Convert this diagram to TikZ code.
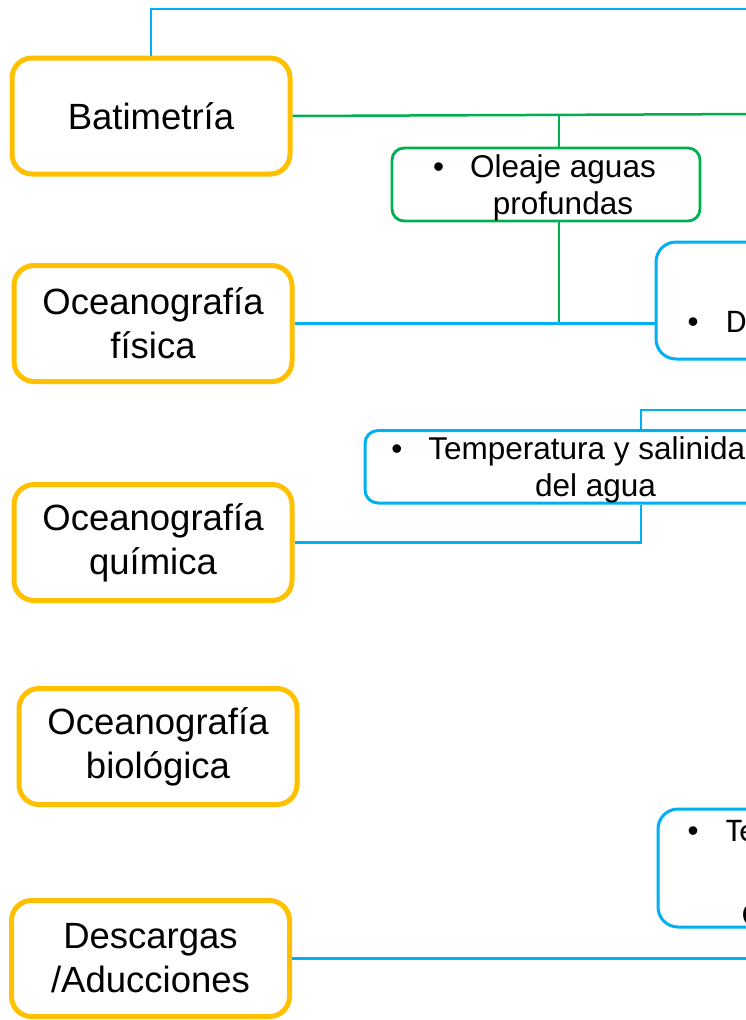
\documentclass[tikz,border=0pt]{standalone}
\usepackage{fontspec}
\setmainfont{Liberation Sans}
\newfontfamily\calibfont{Carlito}
\definecolor{boxyellow}{HTML}{FFC000}
\definecolor{linkblue}{HTML}{00B0F0}
\definecolor{linkgreen}{HTML}{00B050}
% small round bullet hanging to the left of a side-box line
\newcommand{\sidebullet}{\llap{\rmfamily\fontsize{31.5}{37}\selectfont •\hspace{27.5pt}}}
\begin{document}
\begin{tikzpicture}[x=1pt,y=-1pt,
  topic/.style={draw=boxyellow, line width=5pt, rounded corners=20pt,
    inner sep=0pt, minimum width=278pt, minimum height=116pt,
    align=center, font=\fontsize{36.5}{44}\selectfont},
  bluebox/.style={draw=linkblue, line width=3pt, inner sep=0pt},
  greenbox/.style={draw=linkgreen, line width=2.8pt, inner sep=0pt, rounded corners=12pt},
  subtext/.style={inner sep=0pt, align=center, font=\fontsize{31.5}{37}\selectfont},
  sidetext/.style={inner sep=0pt, font=\calibfont\fontsize{33}{40}\selectfont},
  bluelink/.style={draw=linkblue, line width=2.5pt},
  greenlink/.style={draw=linkgreen, line width=2.5pt}]
\useasboundingbox (0,0) rectangle (746,1020);
\clip (0,0) rectangle (746,1020);

% main topics on the left
\node[topic] (bat) at (151,116) {Batimetría};
\node[topic] (fis) at (153,323.5) {Oceanografía\\física};
\node[topic] (qui) at (153,542.5) {Oceanografía\\química};
\node[topic] (bio) at (158,746.5) {Oceanografía\\biológica};
\node[topic] (des) at (150.5,958.5) {Descargas\\/Aducciones};

% detail boxes
\node[greenbox, minimum width=308pt, minimum height=73pt] (ol) at (546,184.5) {};
\node[subtext] (oltxt) at (563,188) {\llap{•\hspace{26pt}}Oleaje aguas\\profundas};

\node[bluebox, rounded corners=20pt, minimum width=244pt, minimum height=117pt] (dbox) at (778,300.5) {};
\node[sidetext, anchor=base west] (dtxt) at (726,332) {\sidebullet D};

\node[bluebox, rounded corners=13pt, minimum width=461pt, minimum height=72.5pt] (temp) at (595.5,466.75) {};
\node[subtext] (temptxt) at (595.5,470) {\llap{•\hspace{26pt}}Temperatura y salinida\phantom{d}\\del agua};

\node[bluebox, rounded corners=20pt, minimum width=242pt, minimum height=118pt] (tebox) at (779,868) {};
\node[sidetext, anchor=base west] (tetxt) at (726,841) {\sidebullet Te};
\node[sidetext, anchor=base west] (ctxt) at (742,925) {C};

% free ends beyond the right edge
\coordinate (topR) at (760,9);
\coordinate (greenR) at (760,114);
\coordinate (tempR) at (760,410);
\coordinate (gx) at (559,0);
\coordinate (tx) at (641,0);

% connectors
\draw[bluelink] (bat.north) |- (topR);
\draw[greenlink] (bat.east) -- (greenR);
\draw[greenlink] (gx |- bat.east) -- (gx |- ol.north);
\draw[greenlink] (gx |- ol.south) -- (gx |- fis.east);
\draw[bluelink] (fis.east) -- (dbox.west |- fis.east);
\draw[bluelink] (tempR) -| (tx |- temp.north);
\draw[bluelink] (tx |- temp.south) |- (qui.east);
\draw[bluelink] (des.east) -- (des.east -| tempR);
\end{tikzpicture}
\end{document}
